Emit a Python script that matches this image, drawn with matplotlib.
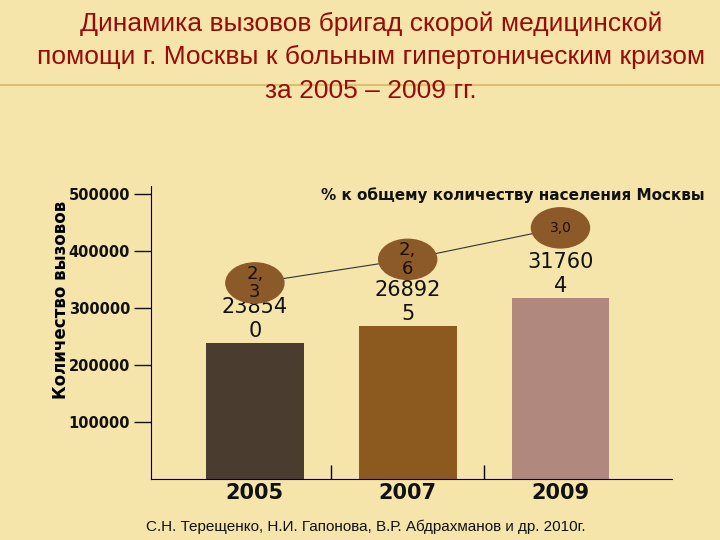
import numpy as np
import matplotlib
matplotlib.use('Agg')
import matplotlib.pyplot as plt
from matplotlib.patches import Ellipse
from matplotlib.lines import Line2D

# данные
years = ['2005', '2007', '2009']
calls = [238540, 268925, 317604]
call_labels = ['23854\n0', '26892\n5', '31760\n4']
pct = [2.3, 2.6, 3.0]
pct_labels = ['2,\n3', '2,\n6', '3,0']
y_ticks = [100000, 200000, 300000, 400000, 500000]

bar_colors = ['#4A3C2F', '#8C5A1E', '#B0887E']
bg = '#F5E5AB'

plt.rcParams['font.family'] = ['Liberation Sans', 'DejaVu Sans']

fig = plt.figure(figsize=(7.2, 5.4), dpi=100, facecolor=bg)

# линия под заголовком
fig.add_artist(Line2D([0.0, 1.0], [1 - 85 / 540, 1 - 85 / 540], color='#D8B460',
                      lw=1.5, alpha=0.8, transform=fig.transFigure, zorder=0))

fig.text(0.515, 1 - 11 / 540,
         'Динамика вызовов бригад скорой медицинской\n'
         'помощи г. Москвы к больным гипертоническим кризом\n'
         'за 2005 – 2009 гг.',
         ha='center', va='top', fontsize=19, color='#990A0A', linespacing=1.5)

ax = fig.add_axes([151 / 720, 1 - 479 / 540, (672 - 151) / 720, (479 - 186) / 540])
ax.set_facecolor('none')

x = np.arange(len(years))
ax.bar(x, calls, width=0.64, color=bar_colors, zorder=2)
for xi, v, lab in zip(x, calls, call_labels):
    ax.text(xi, v + 3000, lab, ha='center', va='bottom', fontsize=15,
            family='DejaVu Sans', color='#111111', linespacing=1.25, zorder=3)

ax.set_xlim(-0.68, 2.73)
ax.set_ylim(0, 514000)
ax.set_yticks(y_ticks)
ax.set_yticklabels([str(t) for t in y_ticks], fontsize=10.5, family='DejaVu Sans',
                   fontweight='bold')
ax.tick_params(axis='y', length=12, width=1, pad=3, colors='#111111')
ax.set_xticks([0.5, 1.5])
ax.set_xticklabels([])
ax.tick_params(axis='x', direction='in', length=10, width=1)
for xi, yr in zip(x, years):
    ax.text(xi, -0.012, yr, transform=ax.get_xaxis_transform(), ha='center', va='top',
            fontsize=15, family='DejaVu Sans', fontweight='bold', color='#111111')
ax.spines['top'].set_visible(False)
ax.spines['right'].set_visible(False)
ax.set_ylabel('Количество вызовов', fontsize=12, family='DejaVu Sans', fontweight='bold')
ax.yaxis.set_label_coords(-0.156, 0.61)

# вторичная ось - проценты
ax2 = ax.twinx()
ax2.set_ylim(-0.191, 3.532)
ax2.axis('off')
ax2.plot(x, pct, color='#333333', lw=0.8, zorder=3)
for xi, p, lab in zip(x, pct, pct_labels):
    ax2.add_patch(Ellipse((xi, p), 0.38, 0.51, color='#8C5A28', zorder=4))
    fs = 13 if '\n' in lab else 10
    ax2.text(xi, p, lab, ha='center', va='center', fontsize=fs, family='DejaVu Sans',
             color='#1A1008', linespacing=1.05, zorder=5)

fig.text(705 / 720, 1 - 195 / 540, '% к общему количеству населения Москвы',
         ha='right', va='center', fontsize=11, family='DejaVu Sans', fontweight='bold',
         color='#111111')

fig.text(366 / 720, 1 - 527 / 540,
         'С.Н. Терещенко, Н.И. Гапонова, В.Р. Абдрахманов и др. 2010г.',
         ha='center', va='center', fontsize=11, color='#111111')

fig.savefig('out.png', dpi=100, facecolor=bg)
